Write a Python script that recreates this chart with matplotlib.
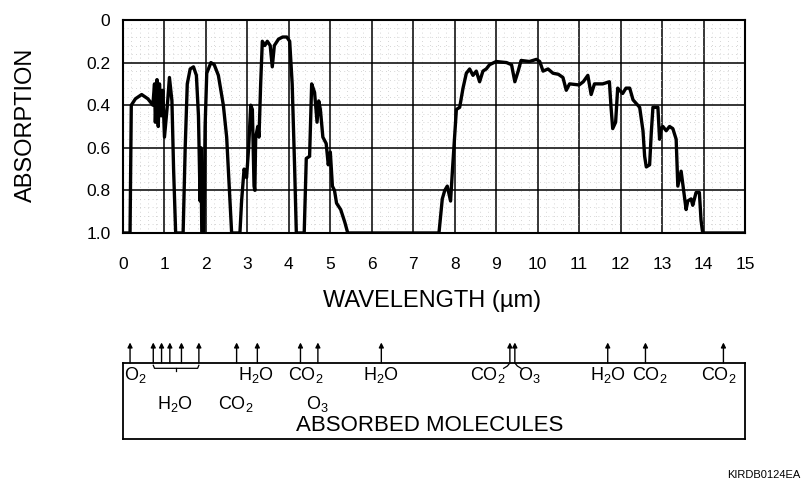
import matplotlib
matplotlib.use("Agg")
import matplotlib.pyplot as plt
from matplotlib.ticker import MultipleLocator

plt.rcParams['font.family'] = ['Liberation Sans', 'DejaVu Sans']

# Atmospheric absorption spectrum
wavelength = [0.0, 0.17, 0.2, 0.3, 0.45, 0.6, 0.72, 0.76, 0.78, 0.82, 0.85, 0.88, 0.92, 0.96,
              1.0, 1.07, 1.12, 1.18, 1.22, 1.27, 1.45, 1.50, 1.55, 1.62, 1.70, 1.77, 1.82,
              1.86, 1.88, 1.90, 1.95, 1.98, 2.02, 2.12, 2.2, 2.3, 2.42, 2.5, 2.58, 2.62,
              2.82, 2.86, 2.92, 2.98, 3.03, 3.08, 3.12, 3.16, 3.18, 3.2, 3.25, 3.28, 3.32,
              3.36, 3.42, 3.48, 3.55, 3.6, 3.65, 3.75, 3.85, 3.95, 4.02, 4.08, 4.14, 4.18,
              4.37, 4.42, 4.5, 4.55, 4.62, 4.68, 4.72, 4.76, 4.82, 4.9, 4.95, 5.0, 5.05,
              5.1, 5.15, 5.25, 5.35, 5.42, 7.62, 7.70, 7.76, 7.82, 7.9, 7.95, 8.04, 8.12,
              8.2, 8.28, 8.36, 8.44, 8.52, 8.6, 8.68, 8.76, 8.84, 9.0, 9.25, 9.37, 9.45,
              9.53, 9.6, 9.8, 9.97, 10.05, 10.13, 10.25, 10.37, 10.5, 10.61, 10.69, 10.77,
              11.0, 11.1, 11.21, 11.29, 11.37, 11.57, 11.73, 11.77, 11.81, 11.88, 11.93,
              12.05, 12.13, 12.22, 12.3, 12.46, 12.54, 12.58, 12.62, 12.7, 12.74, 12.78,
              12.9, 12.94, 12.98, 13.02, 13.1, 13.18, 13.26, 13.34, 13.38, 13.46, 13.54,
              13.58, 13.62, 13.7, 13.74, 13.82, 13.9, 13.94, 13.98, 15.0]
absorption = [1.0, 1.0, 0.40, 0.37, 0.35, 0.37, 0.40, 0.30, 0.48, 0.28, 0.50, 0.30, 0.45, 0.33,
              0.55, 0.40, 0.27, 0.38, 0.70, 1.0, 1.0, 0.60, 0.30, 0.23, 0.22, 0.26, 0.45,
              0.85, 0.60, 1.0, 1.0, 0.50, 0.25, 0.20, 0.21, 0.26, 0.40, 0.55, 0.85, 1.0,
              1.0, 0.85, 0.70, 0.74, 0.60, 0.40, 0.42, 0.78, 0.80, 0.55, 0.50, 0.55, 0.30,
              0.10, 0.12, 0.10, 0.12, 0.22, 0.12, 0.09, 0.08, 0.08, 0.10, 0.30, 0.70, 1.0,
              1.0, 0.65, 0.64, 0.30, 0.34, 0.48, 0.38, 0.42, 0.55, 0.58, 0.68, 0.62, 0.78,
              0.80, 0.86, 0.89, 0.95, 1.0, 1.0, 0.84, 0.80, 0.78, 0.85, 0.69, 0.42, 0.41,
              0.32, 0.25, 0.23, 0.26, 0.24, 0.29, 0.24, 0.23, 0.21, 0.195, 0.2, 0.21, 0.29,
              0.24, 0.19, 0.195, 0.185, 0.195, 0.24, 0.23, 0.25, 0.255, 0.27, 0.33, 0.30,
              0.305, 0.29, 0.26, 0.35, 0.30, 0.30, 0.29, 0.41, 0.51, 0.48, 0.32,
              0.345, 0.32, 0.32, 0.375, 0.41, 0.52, 0.64, 0.69, 0.68, 0.53, 0.41,
              0.41, 0.56, 0.51, 0.50, 0.52, 0.50, 0.51, 0.56, 0.78, 0.71, 0.83,
              0.89, 0.85, 0.84, 0.87, 0.81, 0.81, 0.94, 1.0, 1.0]

x_ticks = list(range(0, 16))
y_ticks = [0, 0.2, 0.4, 0.6, 0.8, 1.0]
y_tick_labels = ['0', '0.2', '0.4', '0.6', '0.8', '1.0']

# molecule arrows (wavelength positions) and labels in the box below
arrow_pos = [0.17, 0.73, 0.93, 1.13, 1.41, 1.83, 2.74, 3.24, 4.28, 4.70, 6.23,
             9.33, 9.45, 11.69, 12.6, 14.48]
row1_labels = [(0.0, r'$\mathregular{O_2}$', 'left'), (3.2, r'$\mathregular{H_2O}$', 'center'),
               (4.4, r'$\mathregular{CO_2}$', 'center'), (6.22, r'$\mathregular{H_2O}$', 'center'),
               (8.8, r'$\mathregular{CO_2}$', 'center'), (9.8, r'$\mathregular{O_3}$', 'center'),
               (11.7, r'$\mathregular{H_2O}$', 'center'), (12.7, r'$\mathregular{CO_2}$', 'center'),
               (14.38, r'$\mathregular{CO_2}$', 'center')]
row2_labels = [(1.25, r'$\mathregular{H_2O}$'), (2.72, r'$\mathregular{CO_2}$'),
               (4.68, r'$\mathregular{O_3}$')]

fig = plt.figure(figsize=(8.06, 4.86), dpi=100)
ax = fig.add_axes([0.1526, 0.5206, 0.7717, 0.4383])

ax.plot(wavelength, absorption, color='black', linewidth=2.4, solid_joinstyle='round')
ax.set_xlim(0, 15)
ax.set_ylim(1.0, 0)
ax.set_xticks(x_ticks)
ax.set_yticks(y_ticks)
ax.set_yticklabels(y_tick_labels)
ax.xaxis.set_minor_locator(MultipleLocator(0.2))
ax.yaxis.set_minor_locator(MultipleLocator(0.04))
ax.grid(which='major', color='black', linewidth=1.1)
ax.grid(which='minor', color='#c8c8c8', linewidth=0.6, linestyle=(0, (1, 4)))
ax.tick_params(which='both', length=0)
ax.tick_params(axis='x', pad=17, labelsize=12.5)
ax.tick_params(axis='y', pad=9, labelsize=12.5)
for s in ax.spines.values():
    s.set_linewidth(1.5)
ax.set_axisbelow(True)

fig.text(0.032, 0.743, 'ABSORPTION', rotation=90, ha='center', va='center', fontsize=17)
fig.text(0.536, 0.380, 'WAVELENGTH (µm)', ha='center', va='center', fontsize=17)

# absorbed molecules box
bx = fig.add_axes([0.1526, 0.0967, 0.7717, 0.1564])
bx.set_xlim(0, 15)
bx.set_ylim(0, 1)
bx.set_xticks([])
bx.set_yticks([])
for s in bx.spines.values():
    s.set_linewidth(1.3)

for p in arrow_pos:
    bx.annotate('', xy=(p, 1.27), xytext=(p, 1.0), xycoords='data',
                arrowprops=dict(arrowstyle='-|>', color='black', lw=1.0,
                                mutation_scale=7, shrinkA=0, shrinkB=0),
                annotation_clip=False)

# brace under the H2O group
bx.plot([0.73, 0.76, 1.80, 1.83], [0.97, 0.93, 0.93, 0.97], color='black', lw=0.9,
        clip_on=False)
bx.plot([1.28, 1.28], [0.93, 0.90], color='black', lw=0.9)
# little hooks under the CO2 / O3 pair
bx.plot([9.33, 9.27, 9.18], [1.0, 0.96, 0.93], color='black', lw=0.9)
bx.plot([9.45, 9.51, 9.60], [1.0, 0.96, 0.93], color='black', lw=0.9)

for xpos, lab, ha in row1_labels:
    bx.text(xpos + (0.03 if ha == 'left' else 0), 0.84, lab, ha=ha, va='center', fontsize=13)
for xpos, lab in row2_labels:
    bx.text(xpos, 0.46, lab, ha='center', va='center', fontsize=13)
bx.text(7.4, 0.18, 'ABSORBED MOLECULES', ha='center', va='center', fontsize=16)

fig.text(0.993, 0.022, 'KIRDB0124EA', ha='right', va='center', fontsize=8)

fig.savefig('out.png', dpi=100)
